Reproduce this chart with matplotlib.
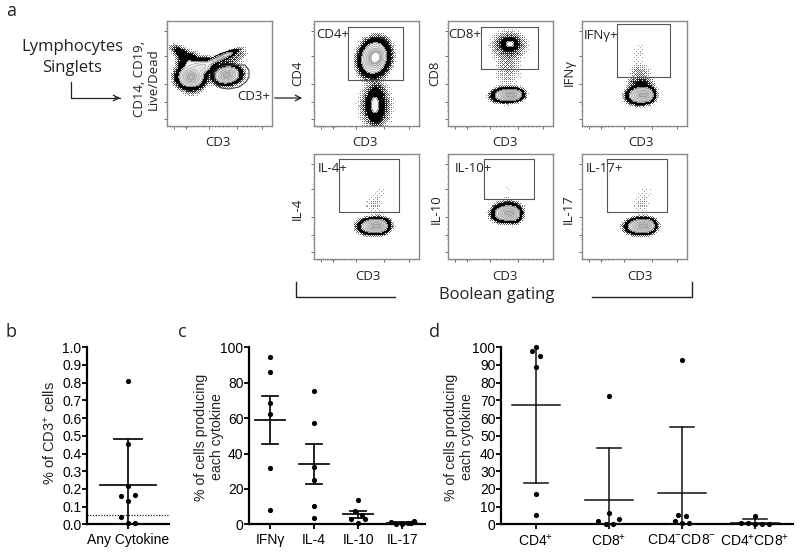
import numpy as np
import matplotlib
matplotlib.use('Agg')
import matplotlib.pyplot as plt
from matplotlib.colors import ListedColormap, BoundaryNorm

plt.rcParams['font.family'] = ['Liberation Sans', 'DejaVu Sans']
plt.rcParams['mathtext.fontset'] = 'custom'
plt.rcParams['mathtext.rm'] = 'Liberation Sans'
plt.rcParams['mathtext.default'] = 'regular'

W, H = 800, 553

# panel b
any_vals = [0.81, 0.455, 0.215, 0.165, 0.16, 0.13, 0.04, 0.005, 0.01]
any_offs = [0, 0, 0, 0.16, -0.16, 0, -0.16, 0, 0.16]
any_stats = (0.22, 0.48, 0.0)
any_cutoff = 0.05

# panel c
c_labels = ['IFNγ', 'IL-4', 'IL-10', 'IL-17']
c_vals = [[94.3, 86, 68.5, 62.5, 32, 8],
          [75.5, 57.5, 32.5, 25, 10.5, 3.5],
          [14, 7.5, 5, 3, 3, 0.5],
          [1.5, 0.3, 0.3, 0.5, 1.8, 1]]
c_offs = [[0, 0, 0, 0, 0, 0],
          [0, 0, 0, 0, 0, 0],
          [0, -0.08, 0.08, -0.16, 0.16, 0],
          [-0.26, -0.14, 0, 0.14, 0.28, 0.2]]
c_mean = [58.8, 34, 5.6, 0.8]
c_upper = [72.3, 45.5, 7.6, 1.1]
c_lower = [45.3, 23, 3.5, 0.4]

# panel d
d_labels = ['CD4$^{+}$', 'CD8$^{+}$', 'CD4$^{-}$CD8$^{-}$', 'CD4$^{+}$CD8$^{+}$']
d_vals = [[100, 98, 95, 89, 17, 5],
          [72.7, 6.5, 3, 2, 0.3, 0.3],
          [93, 5.5, 4.5, 2, 1, 0.5],
          [4.5, 1, 0.5, 0.3, 0.3, 0.3]]
d_offs = [[0, -0.05, 0.05, 0, 0, 0],
          [0, 0, 0.14, -0.15, -0.04, 0.05],
          [0, -0.05, 0.05, -0.1, 0.1, 0],
          [0, -0.19, -0.1, 0.1, 0.19, 0]]
d_mean = [67.5, 14, 17.5, 0.9]
d_upper = [100, 43, 54.7, 2.8]
d_lower = [23.5, 0, 0, 0]

# flow panels: a blob is (cx, cy, sx, sy, angle, weight), in pixels from the panel corner
lymph_blobs = [(24, 56, 5.6, 4.6, 0, 1.0), (60, 54, 5.6, 3.7, -8, 1.0),
               (53, 37, 7.5, 1.3, -24, 0.5), (34, 46, 6, 3.4, -10, 0.35),
               (14, 32, 5.5, 2.6, 35, 0.04), (22, 42, 5, 4.6, 0, 0.1),
               (72, 33, 4, 2.5, -30, 0.003), (60, 40, 10, 4, -24, 0.01),
               (25, 70, 6, 3, 0, 0.004)]
cd4_blobs = [(60, 37, 5.6, 7.2, 15, 1.0), (63, 36, 3.5, 4, 15, 0.5),
             (61, 84, 3.8, 8.4, 0, 0.13), (61, 84, 7.5, 10.5, 0, 0.018)]
cd8_blobs = [(59, 74, 5.8, 2.8, -3, 0.8), (66, 74, 3.8, 2.4, -3, 0.5),
             (62, 23, 3.6, 2.8, 0, 0.13), (61, 24, 8, 6.5, 0, 0.018),
             (60, 45, 8, 13, 0, 0.0035)]
ifng_blobs = [(58, 74, 5.1, 3.5, -5, 0.8), (65, 74, 3.2, 3.2, -5, 0.5), (59, 62, 6, 3, 0, 0.022),
              (58, 52, 6.5, 5, 0, 0.004), (57, 32, 5.5, 9, 0, 0.0012)]
il4_blobs = [(59, 72, 5.6, 3.1, -3, 0.8), (66, 72, 3.6, 3, -3, 0.5), (60, 50, 6, 6, 0, 0.0018),
             (66, 38, 4, 3.5, 0, 0.001)]
il10_blobs = [(58, 59, 5.4, 3.4, -5, 0.8), (65, 60, 3.4, 3.4, -5, 0.5), (59, 46, 4, 1.8, 0, 0.002),
              (60, 35, 4, 3, 0, 0.0009)]
il17_blobs = [(58, 72, 5.6, 3.1, -3, 0.8), (65, 72, 3.6, 3, -3, 0.5), (60, 50, 6, 6, 0, 0.0018),
              (64, 38, 5, 3.5, 0, 0.001)]

lymph_gate = [(47, 52), (50, 48), (55, 45), (66, 44), (78, 44), (82, 49), (82, 56),
              (79, 61), (72, 66), (62, 68), (54, 67), (48, 62), (47, 52)]

panels = [
    (314, 21, cd4_blobs, (34, 6, 89, 59)),
    (448, 21, cd8_blobs, (33, 6, 90, 48)),
    (582, 21, ifng_blobs, (35, 3, 88, 56)),
    (314, 154, il4_blobs, (25, 5, 85, 58)),
    (448, 154, il10_blobs, (36, 5, 86, 45)),
    (582, 154, il17_blobs, (25, 5, 85, 58)),
]

x_ticks = [7, 19, 42, 70, 95]
y_ticks = [10, 35, 63, 81, 98]
x_minor = [3, 5, 9, 11, 13, 15, 17, 18, 20, 21, 23, 26, 30, 36, 48, 52, 56, 60, 76, 80, 84, 88]
y_minor = [3, 7, 14, 22, 30, 40, 50, 58, 70, 75, 79, 83, 85, 90]

shades = ['#000000', '#f4f4f4', '#eeeeee', '#e6e6e6', '#dadada', '#cccccc', '#b4b4b4', '#d6d6d6', '#ffffff']
levels = [0.022, 0.10, 0.17, 0.28, 0.42, 0.60, 0.80, 1.0, 1.15, 3]
sparse_low = 0.0005

# ordered dither, shades the sparse events around the populations
bayer = np.array([[0.0]])
for _ in range(3):
    bayer = np.block([[4 * bayer, 4 * bayer + 2], [4 * bayer + 3, 4 * bayer + 1]])
bayer = (bayer + 0.5) / bayer.size


def to_fig(x0, y0, x1, y1):
    return [x0 / W, 1 - y1 / H, (x1 - x0) / W, (y1 - y0) / H]


def density(xx, yy, blobs):
    z = np.zeros_like(xx)
    for cx, cy, sx, sy, ang, w in blobs:
        t = np.deg2rad(ang)
        u = (xx - cx) * np.cos(t) + (yy - cy) * np.sin(t)
        v = -(xx - cx) * np.sin(t) + (yy - cy) * np.cos(t)
        z = z + w * np.exp(-0.5 * (u / sx) ** 2 - 0.5 * (v / sy) ** 2)
    return z


def flow_panel(left, top, blobs, gate=None, outline=None):
    ax = fig.add_axes(to_fig(left, top, left + 105, top + 105))
    # sparse events, one image pixel per figure pixel, fainter where they are few
    px, py = np.meshgrid(np.arange(105) + 0.5, np.arange(105) + 0.5)
    z = density(px, py, blobs)
    tone = np.clip(np.log(np.maximum(z, 1e-9) / sparse_low) / np.log(levels[0] / sparse_low), 0, 1)
    tile = np.tile(bayer, (14, 14))[:105, :105]
    dots = np.where((tone ** 1.3 > tile) & (z > sparse_low), 0.72 - 0.65 * tone, 1.0)
    ax.imshow(dots, cmap='gray', vmin=0, vmax=1, extent=(0, 105, 105, 0), interpolation='nearest', aspect='auto')
    # contoured populations
    xx, yy = np.meshgrid(np.linspace(0, 105, 320), np.linspace(0, 105, 320))
    zz = density(xx, yy, blobs)
    ax.contourf(xx, yy, zz, levels=levels, cmap=ListedColormap(shades), norm=BoundaryNorm(levels, len(shades)))
    ax.contour(xx, yy, zz, levels=levels[2:8], colors='#8a8a8a', linewidths=0.3)
    ax.contour(xx, yy, zz, levels=levels[1:2], colors='#222222', linewidths=0.4)
    ax.set_xlim(0, 105)
    ax.set_ylim(105, 0)
    ax.set_xticks(x_ticks)
    ax.set_yticks(y_ticks)
    ax.set_xticks(x_minor, minor=True)
    ax.set_yticks(y_minor, minor=True)
    ax.tick_params(length=2, width=0.5, color='#333333', labelbottom=False, labelleft=False)
    ax.tick_params(which='minor', length=1, width=0.4, color='#444444')
    for s in ax.spines.values():
        s.set_color('#8a8a8a')
        s.set_linewidth(1.0)
    if gate is not None:
        x0, y0, x1, y1 = gate
        ax.plot([x0, x1, x1, x0, x0], [y0, y0, y1, y1, y0], color='#555555', lw=0.8)
    if outline is not None:
        ax.plot([p[0] for p in outline], [p[1] for p in outline], color='#444444', lw=0.8)
    return ax


def dot_axes(x0, x1, n, left_pad, right_pad, yticks, ylabels):
    ax = fig.add_axes(to_fig(x0, 347.3, x1, 524.3))
    ax.set_xlim(-left_pad, n - 1 + right_pad)
    ax.patch.set_alpha(0)
    ax.set_yticks(yticks)
    ax.set_yticklabels(ylabels, fontsize=10)
    ax.spines['top'].set_visible(False)
    ax.spines['right'].set_visible(False)
    ax.spines['left'].set_linewidth(1.6)
    ax.spines['bottom'].set_linewidth(1.6)
    ax.tick_params(axis='y', length=3.5, width=1.3, pad=0.5)
    ax.tick_params(axis='x', length=3.5, width=1.3, pad=2.5, labelsize=10)
    return ax


def summary(ax, i, vals, offs, mean, up, lo, mean_w, cap_w, lw=1.1):
    ax.scatter([i + o for o in offs], vals, s=14, color='black', zorder=4, clip_on=False, linewidths=0)
    ax.plot([i, i], [lo, up], color='#111111', lw=lw, zorder=3, clip_on=False)
    ax.plot([i - mean_w, i + mean_w], [mean, mean], color='#111111', lw=lw, zorder=3, clip_on=False)
    for y in (up, lo):
        if y < ax.get_ylim()[1]:
            ax.plot([i - cap_w, i + cap_w], [y, y], color='#111111', lw=lw, zorder=3, clip_on=False)


fig = plt.figure(figsize=(W / 100, H / 100), dpi=100)

# flow plots
flow_panel(167, 21, lymph_blobs, outline=lymph_gate)
for left, top, blobs, gate in panels:
    flow_panel(left, top, blobs, gate)

# dot plots
ax_b = dot_axes(87, 169, 1, 0.93, 0.93, [i / 10 for i in range(11)], ['%.1f' % (i / 10) for i in range(11)])
ax_b.set_ylim(0, 1.0)
summary(ax_b, 0, any_vals, any_offs, any_stats[0], any_stats[1], any_stats[2], 0.64, 0.32, lw=1.3)
ax_b.plot([-0.93, 0.93], [any_cutoff, any_cutoff], color='#222222', lw=0.9, ls=(0, (1, 1.2)), zorder=2)
ax_b.set_xticks([0])
ax_b.set_xticklabels(['Any Cytokine'])

ax_c = dot_axes(249, 425, 4, 0.477, 0.52, range(0, 101, 20), [str(v) for v in range(0, 101, 20)])
ax_c.set_ylim(0, 100)
for i in range(4):
    summary(ax_c, i, c_vals[i], c_offs[i], c_mean[i], c_upper[i], c_lower[i], 0.34, 0.18, lw=1.3)
ax_c.set_xticks(range(4))
ax_c.set_xticklabels(c_labels)

ax_d = dot_axes(501, 793, 4, 0.48, 0.52, range(0, 101, 10), [str(v) for v in range(0, 101, 10)])
ax_d.set_ylim(0, 100)
for i in range(4):
    summary(ax_d, i, d_vals[i], d_offs[i], d_mean[i], d_upper[i], d_lower[i], 0.33, 0.17)
ax_d.set_xticks(range(4))
ax_d.set_xticklabels(d_labels)

# overlay in reference pixels for the free text, arrows and brackets
top = fig.add_axes([0, 0, 1, 1], zorder=10)
top.set_xlim(0, W)
top.set_ylim(H, 0)
top.axis('off')

FLOW = ['Open Sans', 'DejaVu Sans']
dark = '#222222'


def ftext(x, y, s, size=9, rot=0, ha='center'):
    top.text(x, y, s, family=FLOW, fontsize=size, rotation=rot, ha=ha, va='center',
             color=dark, linespacing=1.05)


for x, y, s in [(11, 11, 'a'), (11, 332, 'b'), (182, 332, 'c'), (434, 332, 'd')]:
    ftext(x, y, s, size=13)
ftext(72, 47, 'Lymphocytes', size=12)
ftext(72, 68, 'Singlets', size=12)
ftext(146, 79, 'CD14, CD19,\nLive/Dead', size=9.5, rot=90)
for x, y in [(218, 142), (365, 142), (505, 142), (641, 142), (368, 276), (505, 276), (640, 276)]:
    ftext(x, y, 'CD3', size=9.5)
for x, y, s in [(298, 73, 'CD4'), (435, 73, 'CD8'), (569, 73, 'IFNγ'),
                (297, 209, 'IL-4'), (436, 209, 'IL-10'), (568, 209, 'IL-17')]:
    ftext(x, y, s, size=9.5, rot=90)
for x, y, s in [(316, 35, 'CD4+'), (448, 35, 'CD8+'), (584, 35, 'IFNγ+'), (237, 96, 'CD3+'),
                (318, 169, 'IL-4+'), (455, 169, 'IL-10+'), (586, 169, 'IL-17+')]:
    ftext(x, y, s, size=9.5, ha='left')
ftext(497, 295, 'Boolean gating', size=12)

top.plot([71, 71, 120], [82, 98, 98], color=dark, lw=0.9)
top.annotate('', xy=(123, 98), xytext=(112, 98), arrowprops=dict(arrowstyle='->', color=dark, lw=0.9))
top.annotate('', xy=(305, 98), xytext=(272, 98), arrowprops=dict(arrowstyle='->', color=dark, lw=0.9))
top.plot([296, 296, 395], [282, 297, 297], color=dark, lw=1.0)
top.plot([592, 692, 692], [297, 297, 282], color=dark, lw=1.0)

top.text(50, 433, '% of CD3$^{+}$ cells', fontsize=10.5, rotation=90, ha='center', va='center', color=dark)
top.text(209, 437, '% of cells producing\neach cytokine', fontsize=10.2, rotation=90,
         ha='center', va='center', color=dark, multialignment='center')
top.text(459, 437, '% of cells producing\neach cytokine', fontsize=10.2, rotation=90,
         ha='center', va='center', color=dark, multialignment='center')

fig.savefig('out.png', dpi=100)
